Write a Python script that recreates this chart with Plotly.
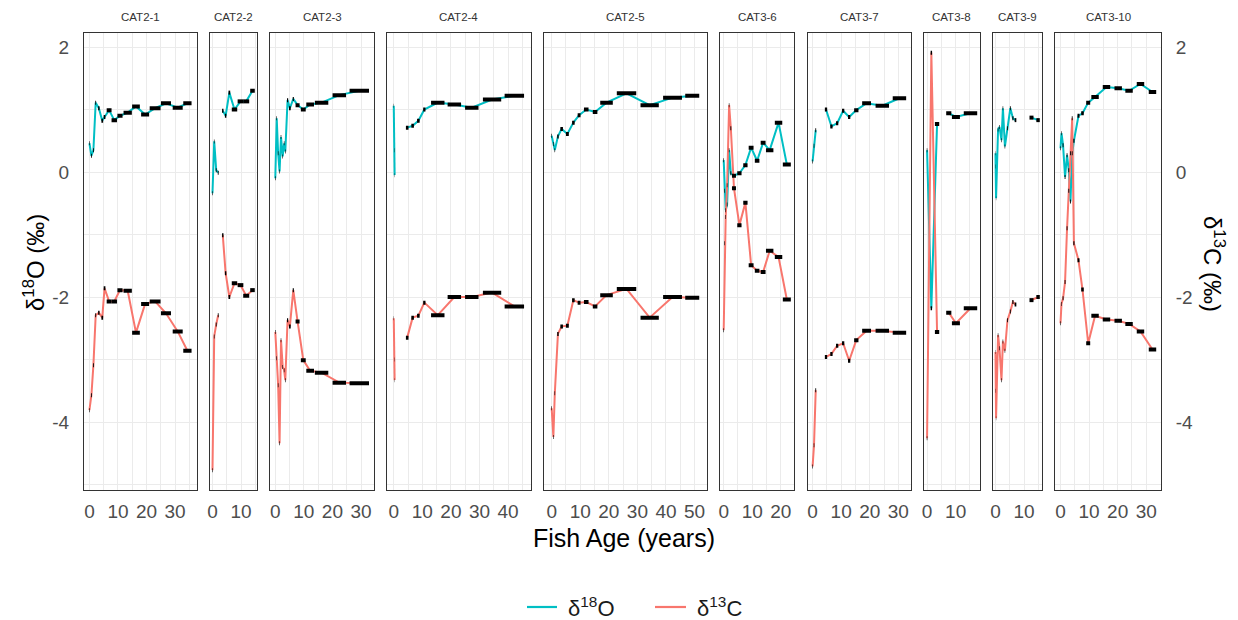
import plotly.graph_objects as go

# ---------------- data (age = mid age of sample, dur = age span of sample) ----------------
panels = ["CAT2-1", "CAT2-2", "CAT2-3", "CAT2-4", "CAT2-5",
          "CAT3-6", "CAT3-7", "CAT3-8", "CAT3-9", "CAT3-10"]

c21_age = [0.0, 0.7, 1.4, 2.2, 3.3, 4.5, 5.3, 6.9, 8.7, 10.7, 13.4, 16.3, 19.5, 23.0, 26.8, 30.9, 34.3]
c21_dur = [0.2, 0.3, 0.3, 0.3, 0.5, 0.6, 0.6, 1.7, 1.9, 1.8, 2.9, 2.7, 2.8, 3.8, 3.5, 3.5, 2.9]
c21_o18 = [0.46, 0.26, 0.35, 1.11, 1.02, 0.82, 0.88, 0.99, 0.83, 0.90, 0.95, 1.05, 0.92, 1.02, 1.10, 1.03, 1.10]
c21_c13 = [-3.81, -3.57, -3.09, -2.29, -2.25, -2.33, -1.86, -2.07, -2.07, -1.89, -1.90, -2.57, -2.11, -2.07, -2.26, -2.55, -2.86]
c21_gap = None

c22_age = [0.0, 0.6, 1.3, 2.0, 3.6, 4.6, 5.9, 7.7, 9.8, 11.8, 14.0]
c22_dur = [0.2, 0.2, 0.3, 0.3, 0.5, 0.5, 0.6, 1.9, 2.0, 2.1, 1.6]
c22_o18 = [-0.34, 0.49, 0.03, -0.01, 0.98, 0.90, 1.27, 1.00, 1.13, 1.13, 1.30]
c22_c13 = [-4.77, -2.63, -2.44, -2.29, -1.01, -1.62, -2.00, -1.78, -1.81, -1.98, -1.89]
c22_gap = 4

c23_age = [0.0, 0.5, 1.0, 1.5, 2.0, 2.6, 3.1, 3.5, 4.3, 5.1, 6.3, 7.8, 9.8, 12.2, 16.2, 22.4, 29.4]
c23_dur = [0.2, 0.2, 0.2, 0.2, 0.2, 0.2, 0.2, 0.2, 0.4, 0.6, 0.4, 1.4, 1.7, 2.7, 4.7, 4.7, 6.8]
c23_o18 = [-0.10, 0.86, 0.30, 0.01, 0.56, 0.25, 0.46, 0.33, 1.15, 1.02, 1.17, 1.07, 1.00, 1.08, 1.11, 1.23, 1.30]
c23_c13 = [-2.56, -2.98, -3.41, -4.34, -2.69, -3.12, -3.17, -3.33, -2.37, -2.47, -1.89, -2.39, -3.01, -3.18, -3.21, -3.37, -3.38]
c23_gap = None

c24_age = [0.0, 0.15, 0.3, 4.7, 6.6, 8.6, 10.7, 15.4, 21.2, 27.3, 34.4, 42.2]
c24_dur = [0.1, 0.1, 0.1, 0.9, 0.9, 0.9, 0.8, 4.7, 4.7, 4.7, 6.4, 6.8]
c24_o18 = [1.06, 0.35, -0.05, 0.71, 0.74, 0.82, 1.00, 1.11, 1.08, 1.03, 1.16, 1.22]
c24_c13 = [-2.34, -3.00, -3.33, -2.65, -2.33, -2.30, -2.09, -2.29, -2.00, -2.00, -1.93, -2.15]
c24_gap = 3

c25_age = [0.0, 0.6, 1.1, 2.2, 3.5, 5.5, 7.6, 9.6, 12.1, 15.2, 19.2, 26.2, 34.3, 42.3, 49.2]
c25_dur = [0.2, 0.2, 0.2, 0.5, 0.9, 1.0, 0.9, 1.0, 1.6, 1.6, 4.4, 6.8, 6.4, 6.6, 4.9]
c25_o18 = [0.58, 0.45, 0.35, 0.57, 0.69, 0.61, 0.79, 0.91, 1.00, 0.96, 1.11, 1.26, 1.07, 1.19, 1.22]
c25_c13 = [-3.78, -4.24, -3.54, -2.59, -2.47, -2.46, -2.05, -2.09, -2.08, -2.15, -1.97, -1.87, -2.33, -2.00, -2.01]
c25_gap = None

c36_age = [0.0, 0.35, 0.7, 1.2, 1.9, 2.5, 3.6, 5.5, 7.6, 9.6, 11.7, 13.8, 16.1, 19.2, 22.1]
c36_dur = [0.2, 0.2, 0.2, 0.2, 0.2, 0.3, 1.4, 1.5, 1.5, 1.7, 1.6, 1.7, 2.6, 2.6, 2.8]
c36_o18 = [0.19, -0.30, -0.61, -0.52, 0.35, -0.02, -0.06, -0.02, 0.11, 0.39, 0.18, 0.47, 0.35, 0.79, 0.12]
c36_c13 = [-2.53, -1.14, -0.72, -0.21, 1.07, 0.70, -0.26, -0.85, -0.49, -1.49, -1.58, -1.60, -1.26, -1.36, -2.04]
c36_gap = None

c37_age = [0.0, 0.5, 1.1, 4.7, 6.6, 8.6, 10.7, 12.8, 15.3, 18.9, 24.4, 30.4]
c37_dur = [0.2, 0.2, 0.3, 0.8, 0.8, 0.8, 0.8, 0.8, 1.5, 3.1, 4.7, 4.7]
c37_o18 = [0.17, 0.42, 0.67, 1.00, 0.73, 0.78, 0.98, 0.88, 0.99, 1.10, 1.06, 1.18]
c37_c13 = [-4.71, -4.37, -3.49, -2.96, -2.91, -2.78, -2.74, -3.02, -2.69, -2.54, -2.54, -2.57]
c37_gap = 3

c38_age = [0.0, 1.5, 3.5, 7.6, 10.1, 15.2]
c38_dur = [0.2, 0.5, 1.5, 1.8, 2.8, 4.7]
c38_o18 = [0.35, -2.18, 0.77, 0.94, 0.88, 0.94]
c38_c13 = [-4.26, 1.91, -2.56, -2.25, -2.42, -2.18]
c38_gap = 3

c39_age = [0.0, 0.1, 0.2, 0.9, 1.4, 2.1, 2.6, 3.3, 4.2, 5.2, 6.1, 7.0, 12.6, 14.9]
c39_dur = [0.1, 0.1, 0.1, 0.2, 0.2, 0.2, 0.2, 0.2, 0.3, 0.3, 0.4, 0.6, 1.4, 1.2]
c39_o18 = [0.30, 0.09, -0.42, 0.68, 0.72, 0.51, 1.02, 0.41, 0.70, 1.02, 0.86, 0.83, 0.87, 0.83]
c39_c13 = [-2.88, -3.50, -3.94, -2.61, -2.82, -3.33, -2.71, -2.86, -2.37, -2.23, -2.08, -2.12, -2.05, -2.00]
c39_gap = 12

c310_age = [0.0, 0.35, 0.9, 1.6, 2.3, 2.9, 3.5, 4.1, 4.7, 6.3, 7.7, 9.7, 12.1, 16.1, 20.2, 24.0, 28.0, 32.2]
c310_dur = [0.2, 0.2, 0.3, 0.3, 0.3, 0.3, 0.3, 0.3, 0.4, 0.7, 0.9, 1.4, 2.6, 2.6, 2.6, 2.6, 2.6, 2.6]
c310_o18 = [0.38, 0.62, 0.43, -0.08, 0.27, 0.03, -0.47, 0.30, 0.50, 0.90, 0.94, 1.11, 1.20, 1.36, 1.34, 1.30, 1.41, 1.28]
c310_c13 = [-2.42, -2.11, -2.02, -1.76, -0.90, -0.30, 0.30, 0.86, -1.14, -1.41, -1.88, -2.74, -2.30, -2.36, -2.38, -2.43, -2.55, -2.84]
c310_gap = None

y_tick_vals = [-4, -2, 0, 2]
y_tick_text = ["-4", "-2", "0", "2"]
y_minor_vals = [-5, -3, -1, 1]

legend_labels = ["δ<sup>18</sup>O", "δ<sup>13</sup>C"]

# ---------------- assemble ----------------
ages = [c21_age, c22_age, c23_age, c24_age, c25_age, c36_age, c37_age, c38_age, c39_age, c310_age]
durs = [c21_dur, c22_dur, c23_dur, c24_dur, c25_dur, c36_dur, c37_dur, c38_dur, c39_dur, c310_dur]
o18s = [c21_o18, c22_o18, c23_o18, c24_o18, c25_o18, c36_o18, c37_o18, c38_o18, c39_o18, c310_o18]
c13s = [c21_c13, c22_c13, c23_c13, c24_c13, c25_c13, c36_c13, c37_c13, c38_c13, c39_c13, c310_c13]
gaps = [c21_gap, c22_gap, c23_gap, c24_gap, c25_gap, c36_gap, c37_gap, c38_gap, c39_gap, c310_gap]

TEAL = "#00BFC4"
RED = "#F8766D"
GRID = "#EBEBEB"
FONT = "Liberation Sans, Arial, sans-serif"
W, H = 1238, 620
LEFT_PX, RIGHT_PX, GAP_PX = 84.0, 1161.0, 13.4
TOP_PX, BOT_PX = 33.0, 490.0
Y_RANGE = [-5.088, 2.224]

n = len(panels)
ranges = []
for a, d in zip(ages, durs):
    lo = min(ai - di / 2 for ai, di in zip(a, d))
    hi = max(ai + di / 2 for ai, di in zip(a, d))
    pad = 0.05 * (hi - lo)
    ranges.append([lo - pad, hi + pad])
spans = [r[1] - r[0] for r in ranges]
scale = (RIGHT_PX - LEFT_PX - GAP_PX * (n - 1)) / sum(spans)

fig = go.Figure()
layout = {}
annotations = []
shapes = []
x0 = LEFT_PX
ydom = [1 - BOT_PX / H, 1 - TOP_PX / H]


def with_gap(vals, gap):
    vals = list(vals)
    if gap is not None:
        vals = vals[:gap] + [None] + vals[gap:]
    return vals


for i in range(n):
    k = "" if i == 0 else str(i + 1)
    xa, ya = "x" + k, "y" + k
    w = spans[i] * scale
    dom = [x0 / W, (x0 + w) / W]
    x0 += w + GAP_PX

    a, d, o, c, g = ages[i], durs[i], o18s[i], c13s[i], gaps[i]
    fig.add_trace(go.Scatter(x=with_gap(a, g), y=with_gap(o, g), mode="lines",
                             line=dict(color=TEAL, width=2), name=legend_labels[0],
                             showlegend=False, xaxis=xa, yaxis=ya,
                             connectgaps=False, hoverinfo="skip"))
    fig.add_trace(go.Scatter(x=with_gap(a, g), y=with_gap(c, g), mode="lines",
                             line=dict(color=RED, width=2), name=legend_labels[1],
                             showlegend=False, xaxis=xa, yaxis=ya,
                             connectgaps=False, hoverinfo="skip"))
    sx, sy = [], []
    for ai, di, oi, ci in zip(a, d, o, c):
        for v in (oi, ci):
            sx += [ai - di / 2, ai + di / 2, None]
            sy += [v, v, None]
    fig.add_trace(go.Scatter(x=sx, y=sy, mode="lines", line=dict(color="black", width=4),
                             showlegend=False, xaxis=xa, yaxis=ya, hoverinfo="skip"))

    layout["xaxis" + k] = dict(
        domain=dom, range=ranges[i], anchor=ya, tick0=0, dtick=10,
        showgrid=True, gridcolor=GRID, gridwidth=1.1,
        minor=dict(dtick=5, showgrid=True, gridcolor=GRID, gridwidth=0.6),
        showline=True, mirror=True, linecolor="#333333", linewidth=1,
        zeroline=False, ticks="", ticklabelstandoff=4,
        tickfont=dict(family=FONT, size=19, color="#4D4D4D"), automargin=False)
    yax = dict(
        domain=ydom, range=Y_RANGE, anchor=xa, tickmode="array",
        tickvals=y_tick_vals, ticktext=y_tick_text,
        showgrid=True, gridcolor=GRID, gridwidth=1.1,
        minor=dict(tickvals=y_minor_vals, showgrid=True, gridcolor=GRID, gridwidth=0.6),
        showline=True, mirror=True, linecolor="#333333", linewidth=1,
        zeroline=False, ticks="", showticklabels=(i == 0 or i == n - 1),
        ticklabelstandoff=10,
        tickfont=dict(family=FONT, size=19, color="#4D4D4D"), automargin=False)
    if i == n - 1:
        yax["side"] = "right"
    layout["yaxis" + k] = yax

    annotations.append(dict(text=panels[i], x=(dom[0] + dom[1]) / 2, y=1 - 17 / H,
                            xref="paper", yref="paper", showarrow=False,
                            xanchor="center", yanchor="middle",
                            font=dict(family=FONT, size=11.5, color="#333333")))

annotations.append(dict(text="Fish Age (years)", x=((LEFT_PX + RIGHT_PX) / 2 + 2) / W, y=1 - 538 / H,
                        xref="paper", yref="paper", showarrow=False, xanchor="center",
                        yanchor="middle", font=dict(family=FONT, size=25, color="black")))
annotations.append(dict(text="δ<sup>18</sup>O (‰)", x=34 / W, y=1 - 263 / H, textangle=-90,
                        xref="paper", yref="paper", showarrow=False, xanchor="center",
                        yanchor="middle", font=dict(family=FONT, size=24, color="black")))
annotations.append(dict(text="δ<sup>13</sup>C (‰)", x=1214 / W, y=1 - 264 / H, textangle=90,
                        xref="paper", yref="paper", showarrow=False, xanchor="center",
                        yanchor="middle", font=dict(family=FONT, size=24, color="black")))

# legend (drawn as keys + text to match spacing)
LEG_Y = 1 - 607 / H
for (lx0, lx1, tx), col, lab in zip([(527, 557, 566), (655, 686, 695)], [TEAL, RED], legend_labels):
    shapes.append(dict(type="line", xref="paper", yref="paper", x0=lx0 / W, x1=lx1 / W,
                       y0=LEG_Y, y1=LEG_Y, line=dict(color=col, width=2.2)))
    annotations.append(dict(text=lab, x=tx / W, y=LEG_Y, xref="paper", yref="paper",
                            showarrow=False, xanchor="left", yanchor="middle",
                            font=dict(family=FONT, size=22, color="#1A1A1A")))

fig.update_layout(
    width=W, height=H, margin=dict(l=0, r=0, t=0, b=0),
    paper_bgcolor="white", plot_bgcolor="white",
    font=dict(family=FONT, color="#1A1A1A"),
    annotations=annotations, shapes=shapes, showlegend=False,
    **layout)

fig.write_html("out.html")
